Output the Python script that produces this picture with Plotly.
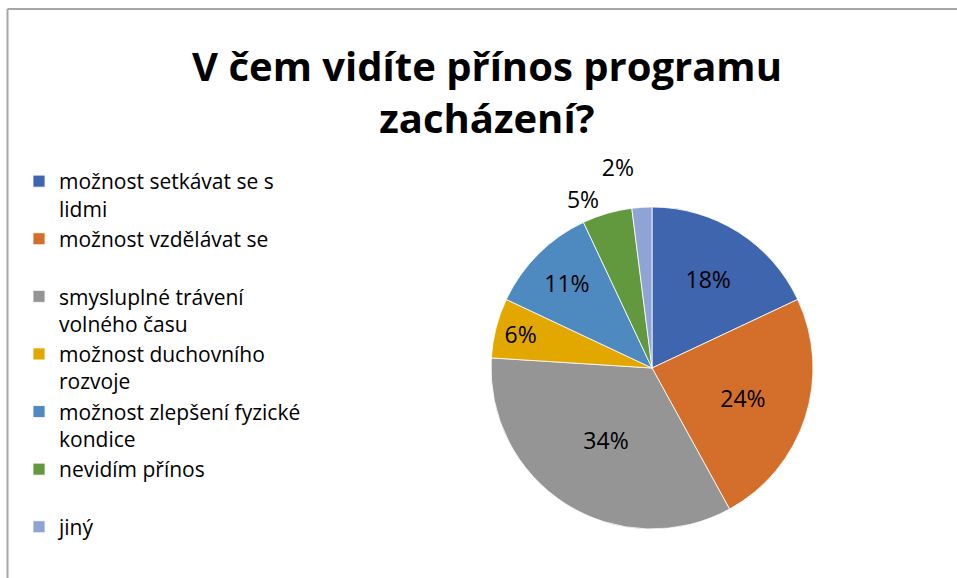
import textwrap
import plotly.graph_objects as go

title_lines = ["V čem vidíte přínos programu", "zacházení?"]
categories = [
    "možnost setkávat se s lidmi",
    "možnost vzdělávat se",
    "smysluplné trávení volného času",
    "možnost duchovního rozvoje",
    "možnost zlepšení fyzické kondice",
    "nevidím přínos",
    "jiný",
]
values = [18, 24, 34, 6, 11, 5, 2]
colors = ["#3E65AD", "#D46F2B", "#959595", "#E2A800", "#4E8AC0", "#62993E", "#8FA3D5"]
text_positions = ["inside", "inside", "inside", "inside", "inside", "outside", "outside"]

FONT = "Open Sans"


def legend_label(s, width=24):
    lines = textwrap.wrap(s, width)
    while len(lines) < 2:
        lines.append("\u00a0")
    return "<br>".join(lines)


labels = [legend_label(c) for c in categories]

W, H = 957, 578
cx, cy, r = 652, 368, 161

fig = go.Figure(
    go.Pie(
        labels=labels,
        values=values,
        sort=False,
        direction="clockwise",
        rotation=0,
        marker=dict(colors=colors, line=dict(color="white", width=0.8)),
        texttemplate="%{percent:.0%}",
        textposition=text_positions,
        insidetextfont=dict(family=FONT, size=23, color="black"),
        outsidetextfont=dict(family=FONT, size=23, color="black"),
        insidetextorientation="horizontal",
        domain=dict(x=[(cx - r) / W, (cx + r) / W], y=[(H - cy - r) / H, (H - cy + r) / H]),
        hovertemplate="%{label}: %{percent}<extra></extra>",
    )
)

fig.update_layout(
    width=W,
    height=H,
    margin=dict(l=0, r=0, t=0, b=0),
    paper_bgcolor="white",
    plot_bgcolor="white",
    font=dict(family=FONT, color="black"),
    title=dict(
        text="<br>".join(title_lines),
        x=487 / W,
        xanchor="center",
        y=1 - 81 / H,
        yanchor="top",
        font=dict(family=FONT, size=40, color="black", weight="bold"),
    ),
    legend=dict(
        x=19 / W,
        xanchor="left",
        y=1 - 161 / H,
        yanchor="top",
        font=dict(family=FONT, size=21, color="black"),
        valign="top",
        bgcolor="rgba(0,0,0,0)",
    ),
    shapes=[
        dict(type="line", xref="paper", yref="paper", x0=7.5 / W, x1=1.02, y0=1 - 9 / H, y1=1 - 9 / H,
             line=dict(color="#A6A6A6", width=2)),
        dict(type="line", xref="paper", yref="paper", x0=7.5 / W, x1=7.5 / W, y0=1 - 9 / H, y1=-0.02,
             line=dict(color="#A6A6A6", width=2)),
    ],
)

post = """
document.body.style.margin='0px';
var gd = document.getElementsByClassName('plotly-graph-div')[0];
function hideLeaders(){ gd.querySelectorAll('path.textline').forEach(function(e){ e.style.display='none'; }); }
hideLeaders();
gd.on('plotly_afterplot', hideLeaders);
"""

fig.write_html("out.html", config={"displayModeBar": False}, post_script=post)
